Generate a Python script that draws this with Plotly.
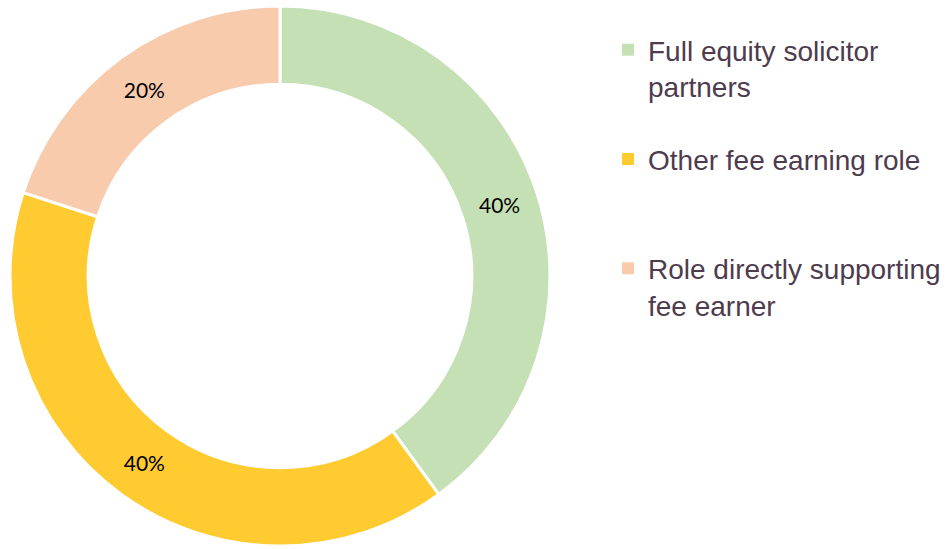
import plotly.graph_objects as go

labels = ["Full equity solicitor<br>partners", "Other fee earning role<br> ", "Role directly supporting<br>fee earner"]
values = [40, 40, 20]
colors = ["#C5E0B4", "#FFCB30", "#F8CBAD"]

W, H = 947, 549
cx, cy, R = 280, 276, 270

fig = go.Figure()
fig.add_trace(go.Pie(
    labels=labels, values=values, hole=0.71, sort=False, direction="clockwise", rotation=0,
    marker=dict(colors=colors, line=dict(color="white", width=3)),
    textinfo="percent", texttemplate="%{percent:.0%}", textposition="inside",
    insidetextorientation="horizontal",
    textfont=dict(family="Lato", size=21, color="black"),
    showlegend=False, hoverinfo="skip",
    domain=dict(x=[(cx - R) / W, (cx + R) / W], y=[(H - cy - R) / H, (H - cy + R) / H]),
))

for i, (lab, col) in enumerate(zip(labels, colors)):
    fig.add_trace(go.Scatter(
        x=[None], y=[None], mode="markers", name=lab, legendgroup=f"g{i}",
        marker=dict(symbol="square", size=10, color=col), showlegend=True,
    ))

fig.update_layout(
    width=W, height=H, margin=dict(l=0, r=0, t=0, b=0),
    paper_bgcolor="white", plot_bgcolor="white",
    xaxis=dict(visible=False), yaxis=dict(visible=False),
    legend=dict(x=608 / W, xanchor="left", y=1 - 25 / H, yanchor="top",
                font=dict(family="Liberation Sans", size=28, color="#4E3B4E"),
                valign="top", tracegroupgap=33.5, itemsizing="constant", bgcolor="rgba(0,0,0,0)"),
)

fig.write_html("out.html", config={"displayModeBar": False},
               post_script="document.body.style.margin='0';document.body.style.padding='0';")
